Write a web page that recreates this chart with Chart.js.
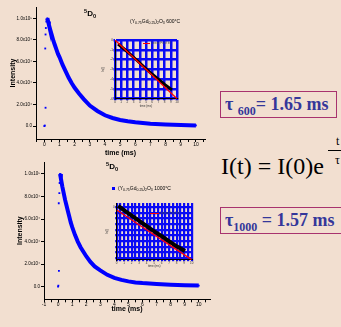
<!DOCTYPE html>
<html>
<head>
<meta charset="utf-8">
<script src="https://cdn.jsdelivr.net/npm/chart.js@4.4.0/dist/chart.umd.min.js"></script>
<style>
  body { margin: 0; background: #F2DFD0; }
  #page { position: relative; width: 341px; height: 327px; overflow: hidden; background: #F2DFD0; font-family: "Liberation Sans", Arial, sans-serif; }
  canvas { position: absolute; }
  .lbl { position: absolute; white-space: nowrap; color: #000; }
  .lbl sub { font-size: 70%; vertical-align: -0.35em; }
  .lbl sup { font-size: 70%; vertical-align: 0.5em; }
  .tau { position: absolute; border: 1.5px solid #A8336E; box-sizing: border-box; font-family: "Liberation Serif", "Times New Roman", serif; font-weight: bold; color: #35379A; font-size: 18px; white-space: nowrap; }
  .tau sub { font-size: 12px; vertical-align: -0.4em; }
  .eq { position: absolute; font-family: "Liberation Serif", "Times New Roman", serif; color: #000; white-space: nowrap; }
  .leg { position: absolute; font-size: 3px; color: #444; white-space: nowrap; line-height: 3px; }
</style>
</head>
<body>
<div id="page">
  <canvas id="main600" style="left:0px;top:0px" width="212" height="158"></canvas>
  <canvas id="inset600" style="left:100px;top:34px" width="84" height="74"></canvas>
  <canvas id="main1000" style="left:0px;top:155px" width="215" height="158"></canvas>
  <canvas id="inset1000" style="left:104px;top:198px" width="94" height="70"></canvas>

  <div class="lbl" style="left:84px;top:8px;font-size:8px;font-weight:bold"><sup>5</sup>D<sub>0</sub></div>
  <div class="lbl" style="left:130px;top:18px;font-size:5px">(Y<sub>0.75</sub>Gd<sub>0.25</sub>)<sub>2</sub>O<sub>3</sub> 600°C</div>

  <div class="lbl" style="left:106px;top:161px;font-size:8px;font-weight:bold"><sup>5</sup>D<sub>0</sub></div>
  <div class="lbl" style="left:112px;top:187px;width:3px;height:3px;background:#0000FF"></div>
  <div class="lbl" style="left:118px;top:185px;font-size:5px">(Y<sub>0.75</sub>Gd<sub>0.25</sub>)<sub>2</sub>O<sub>3</sub> 1000°C</div>

  <div style="position:absolute;left:143px;top:43px;width:7px;height:1.3px;background:#FF0000"></div>
  <div class="leg" style="left:151px;top:42px">Linear Fit of lnI</div>
  <div style="position:absolute;left:150px;top:213px;width:9px;height:1.3px;background:#FF0000"></div>
  <div class="leg" style="left:160px;top:212px">Linear Fit of lnI</div>

  <div class="tau" style="left:220px;top:91px;width:117px;height:27px;padding:2px 0 0 4px">τ <sub>600</sub>= 1.65 ms</div>
  <div class="tau" style="left:220px;top:207px;width:130px;height:27px;padding:2px 0 0 4px">τ<sub>1000</sub> = 1.57 ms</div>

  <div class="eq" style="left:221px;top:154px;font-size:24px;line-height:24px">I(t) = I(0)e</div>
  <div class="eq" style="left:336px;top:135px;font-size:12px;line-height:12px">t</div>
  <div style="position:absolute;left:328px;top:150px;width:20px;height:1px;background:#000"></div>
  <div class="eq" style="left:335px;top:154px;font-size:12px;line-height:12px">τ</div>
</div>
<script>
// 600 °C decay (time in ms, intensity in counts)
const time600 = [0.20, 0.25, 0.3, 0.4, 0.5, 0.6, 0.7, 0.8, 0.9, 1.0, 1.2, 1.4, 1.6, 1.8, 2.0, 2.3, 2.6, 3.0, 3.5, 4.0, 4.5, 5.0, 5.5, 6.0, 6.5, 7.0, 8.0, 9.0, 10.0];
const int600 = [100000, 97000, 94000, 89000, 84000, 79000, 75000, 71000, 67000, 64000, 57000, 51000, 45000, 40000, 35500, 30000, 25000, 19000, 14000, 10000, 7500, 5700, 4500, 3500, 2800, 2200, 1400, 900, 600];
const early600T = [0.0, 0.03, 0.08, 0.06, 0.08, 0.1, 0.13, 0.15];
const early600I = [0, 500, 17000, 72000, 85000, 91000, 97000, 99000];

// 1000 °C decay
const time1000 = [0.14, 0.2, 0.3, 0.4, 0.5, 0.6, 0.7, 0.8, 0.9, 1.0, 1.2, 1.4, 1.6, 1.8, 2.0, 2.3, 2.6, 3.0, 3.5, 4.0, 4.5, 5.0, 5.5, 6.0, 7.0, 8.0, 9.0, 10.0];
const int1000 = [100000, 96000, 89000, 83000, 77000, 72000, 67000, 62000, 57000, 53000, 46000, 40000, 35000, 31000, 27000, 22000, 18000, 14500, 10500, 7800, 6000, 4700, 3800, 3200, 2400, 1800, 1300, 1000];
const early1000T = [0.0, 0.02, 0.06, 0.05, 0.09, 0.11, 0.13];
const early1000I = [0, 1000, 14000, 74000, 83000, 92000, 96000];

// insets: ln(I) vs time, data and linear fit
const lnT600 = [0.5, 2, 4, 6, 8, 9.2];
const lnI600 = [-0.41, -1.2, -2.35, -3.5, -4.55, -5.1];
const fitT600 = [0, 10];
const fitI600 = [0, -6.0];
const lnT1000 = [0.2, 1, 2, 3, 4, 5, 6, 7, 8, 9.1];
const lnI1000 = [0.13, -0.4, -1.05, -1.7, -2.35, -3.0, -3.6, -4.25, -4.85, -5.43];
const fitT1000 = [0, 10];
const fitI1000 = [-0.36, -6.5];

const xyPairs = (xs, ys) => xs.map((x, i) => ({x: x, y: ys[i]}));
const BLUE = '#0000FF';

function intensityLabel(v) {
  if (v === 0) return '0.0';
  if (v >= 100000) return (v / 100000).toFixed(1) + 'x10\u2075';
  return (v / 10000).toFixed(1) + 'x10\u2074';
}

function mainChart(id, opts) {
  return new Chart(document.getElementById(id), {
    type: 'scatter',
    data: {
      datasets: [
        {data: xyPairs(opts.t, opts.i), showLine: true, borderColor: BLUE, borderWidth: 4,
         backgroundColor: BLUE, pointStyle: 'rect', pointRadius: 1.3, pointBorderWidth: 0},
        {data: xyPairs(opts.et, opts.ei), showLine: false, backgroundColor: BLUE,
         pointStyle: 'rect', pointRadius: 1.3, pointBorderWidth: 0}
      ]
    },
    options: {
      responsive: false, animation: false,
      layout: {padding: {top: opts.padTop, right: opts.padRight, left: 0, bottom: 0}},
      plugins: {legend: {display: false}, tooltip: {enabled: false}},
      scales: {
        x: {
          type: 'linear', min: opts.xMin, max: opts.xMax,
          afterBuildTicks: s => { s.ticks = opts.xTicks.map(v => ({value: v})); },
          afterFit: s => { s.height = opts.xHeight; },
          grid: {drawOnChartArea: false, tickLength: 3, color: '#000'},
          border: {color: '#000', width: 1},
          ticks: {autoSkip: false, maxRotation: 0, padding: opts.xTickPad, color: '#000',
                  font: {size: 5, family: 'Liberation Sans'},
                  callback: v => Number.isInteger(v) && v <= 10 ? String(v) : ''},
          title: {display: true, text: 'time (ms)', color: '#000', padding: {top: 0, bottom: opts.xTitlePad},
                  font: {size: 7, weight: 'bold', family: 'Liberation Sans'}}
        },
        y: {
          type: 'linear', min: opts.yMin, max: opts.yMax,
          afterBuildTicks: s => { s.ticks = [0, 20000, 40000, 60000, 80000, 100000].map(v => ({value: v})); },
          afterFit: s => { s.width = opts.yWidth; },
          grid: {drawOnChartArea: false, tickLength: 3, color: '#000'},
          border: {color: '#000', width: 1},
          ticks: {padding: 1, color: '#000', font: {size: 4.5, family: 'Liberation Sans'}, callback: intensityLabel},
          title: {display: true, text: 'Intensity', color: '#000', padding: {top: opts.yTitlePad, bottom: 0},
                  font: {size: 7, weight: 'bold', family: 'Liberation Sans'}}
        }
      }
    }
  });
}

function insetChart(id, opts) {
  return new Chart(document.getElementById(id), {
    type: 'scatter',
    data: {
      datasets: [
        {label: 'Linear Fit of lnI', data: xyPairs(opts.ft, opts.fi), showLine: true, borderColor: '#FF0000',
         borderWidth: 1.3, pointRadius: 0, order: 0},
        {label: 'ln I', data: xyPairs(opts.dt, opts.di), showLine: true, borderColor: '#000',
         borderWidth: opts.dataWidth, pointRadius: 0, order: 1}
      ]
    },
    options: {
      responsive: false, animation: false,
      layout: {padding: {top: opts.padTop, right: opts.padRight, left: 0, bottom: 0}},
      plugins: {tooltip: {enabled: false}, legend: {display: false}},
      scales: {
        x: {
          type: 'linear', min: 0, max: 10,
          afterBuildTicks: s => { s.ticks = opts.xGrid.map(v => ({value: v})); },
          afterFit: s => { s.height = opts.xHeight; },
          grid: {color: '#0A0AF5', lineWidth: opts.gridWidth, tickLength: 1.5},
          border: {color: '#000', width: 1},
          ticks: {autoSkip: false, maxRotation: 0, padding: 0, color: '#333', font: {size: 3, family: 'Liberation Sans'},
                  callback: v => Number.isInteger(v) ? String(v) : ''},
          title: {display: true, text: 'time (ms)', color: '#333', padding: 0, font: {size: 3, family: 'Liberation Sans'}}
        },
        y: {
          type: 'linear', min: opts.yMin, max: opts.yMax,
          afterBuildTicks: s => { s.ticks = opts.yGrid.map(v => ({value: v})); },
          afterFit: s => { s.width = opts.yWidth; },
          grid: {color: '#0A0AF5', lineWidth: opts.gridWidth, tickLength: 1.5},
          border: {color: '#000', width: 1},
          ticks: {autoSkip: false, padding: 0.5, color: '#333', font: {size: 3, family: 'Liberation Sans'},
                  callback: v => Number.isInteger(v) ? String(v) : ''},
          title: {display: true, text: 'ln(I)', color: '#333', padding: {top: 1, bottom: 0}, font: {size: 3, family: 'Liberation Sans'}}
        }
      }
    }
  });
}

const steps = (a, b, step) => { const out = []; for (let v = a; v <= b + 1e-9; v += step) out.push(Math.round(v * 100) / 100); return out; };

mainChart('main600', {
  t: time600, i: int600, et: early600T, ei: early600I,
  xMin: -0.55, xMax: 10.6, xTicks: steps(-0.5, 10.5, 0.5),
  yMin: -12000, yMax: 110500,
  padTop: 7, padRight: 7, xHeight: 19, yWidth: 36, xTickPad: 0, xTitlePad: 1, yTitlePad: 9
});

mainChart('main1000', {
  t: time1000, i: int1000, et: early1000T, ei: early1000I,
  xMin: -1, xMax: 10.8, xTicks: steps(-1, 10.5, 0.5),
  yMin: -11200, yMax: 110600,
  padTop: 7, padRight: 5, xHeight: 13.7, yWidth: 44, xTickPad: -1, xTitlePad: 0, yTitlePad: 16
});

insetChart('inset600', {
  dt: lnT600, di: lnI600, ft: fitT600, fi: fitI600, dataWidth: 3,
  yMin: -6, yMax: 0, xGrid: steps(0, 10, 1), yGrid: steps(-6, 0, 1),
  padTop: 6, padRight: 7, xHeight: 9.3, yWidth: 15, gridWidth: 2.5
});

insetChart('inset1000', {
  dt: lnT1000, di: lnI1000, ft: fitT1000, fi: fitI1000, dataWidth: 4,
  yMin: -6.5, yMax: 0.5, xGrid: steps(0, 10, 0.5), yGrid: steps(-6.3, 0.5, 0.7),
  padTop: 5, padRight: 6.3, xHeight: 8.3, yWidth: 12.7, gridWidth: 2.2
});
</script>
</body>
</html>
